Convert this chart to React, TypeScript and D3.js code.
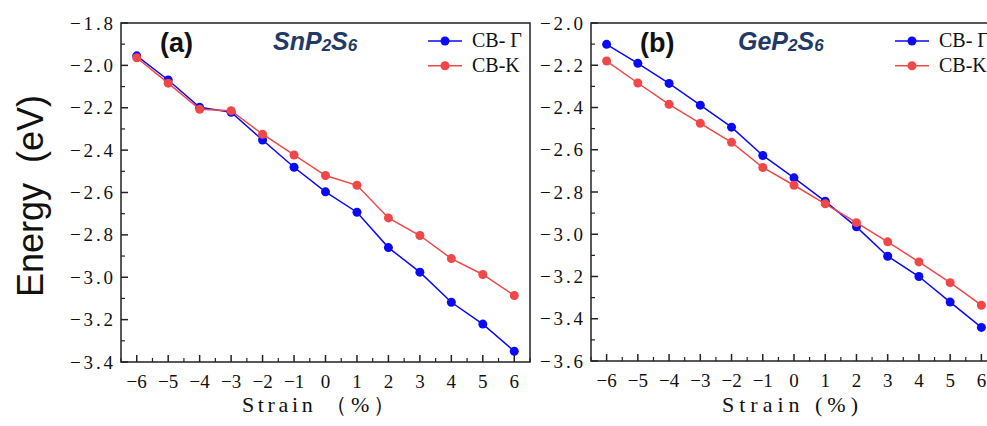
import React from "react";
import * as d3 from "d3";

const strain = [-6, -5, -4, -3, -2, -1, 0, 1, 2, 3, 4, 5, 6];
const snGamma = [-1.955, -2.069, -2.198, -2.221, -2.352, -2.481, -2.597, -2.693, -2.86, -2.976, -3.118, -3.221, -3.349];
const snK = [-1.964, -2.084, -2.207, -2.214, -2.325, -2.423, -2.52, -2.566, -2.72, -2.803, -2.912, -2.987, -3.086];
const geGamma = [-2.101, -2.191, -2.286, -2.389, -2.493, -2.627, -2.733, -2.844, -2.965, -3.104, -3.2, -3.321, -3.441];
const geK = [-2.18, -2.284, -2.385, -2.475, -2.565, -2.684, -2.768, -2.856, -2.945, -3.036, -3.131, -3.229, -3.336];
const xTicks = [-6, -5, -4, -3, -2, -1, 0, 1, 2, 3, 4, 5, 6];
const snYTicks = [-1.8, -2.0, -2.2, -2.4, -2.6, -2.8, -3.0, -3.2, -3.4];
const geYTicks = [-2.0, -2.2, -2.4, -2.6, -2.8, -3.0, -3.2, -3.4, -3.6];
const seriesNames = ["CB- Γ", "CB-K"];

const BLUE = "#0a0af5";
const RED = "#f04848";
const AXIS = "#222";
const SERIF = "Liberation Serif, DejaVu Serif, serif";
const SANS = "Liberation Sans, Arial, sans-serif";

type PanelProps = {
  left: number; right: number; top: number; bottom: number;
  yDomain: [number, number]; yTicks: number[];
  gamma: number[]; k: number[];
  tag: string; tagX: number;
  formula: string; formulaX: number;
  xLabel: string; xLabelX: number; xLabelLen: number;
};

function fmt(v: number) {
  return "\u2212" + Math.abs(v).toFixed(1);
}

const serifStyle: React.CSSProperties = { fontFamily: SERIF };

function Panel(p: PanelProps) {
  const x = d3.scaleLinear().domain([-6.5, 6.5]).range([p.left, p.right]);
  const y = d3.scaleLinear().domain(p.yDomain).range([p.bottom, p.top]);
  const line = d3.line<number>().x((_, i) => x(strain[i])).y((d) => y(d));
  const minorX = d3.range(-6.5, 6.51, 0.5).filter((v) => Math.abs(v - Math.round(v)) > 0.1);
  const [y0, y1] = p.yDomain;
  const minorY = d3.range(0, Math.round((y1 - y0) / 0.1) + 1).map((i) => y0 + i * 0.1);
  const series = [
    { vals: p.gamma, color: BLUE },
    { vals: p.k, color: RED },
  ];
  const legX = p.right - 102;
  const parts = p.formula.match(/[A-Za-z]+|\d/g) || [];
  return (
    <g>
      {series.map((s, si) => (
        <g key={si}>
          <path d={line(s.vals) || ""} fill="none" stroke={s.color} strokeWidth={1.5} />
          {s.vals.map((v, i) => (
            <circle key={i} cx={x(strain[i])} cy={y(v)} r={4.5} fill={s.color} />
          ))}
        </g>
      ))}
      <rect x={p.left} y={p.top} width={p.right - p.left} height={p.bottom - p.top} fill="none" stroke={AXIS} strokeWidth={1.5} />
      {xTicks.map((t) => (
        <g key={"xt" + t}>
          <line x1={x(t)} x2={x(t)} y1={p.bottom} y2={p.bottom - 7} stroke={AXIS} strokeWidth={1.5} />
          <text x={x(t)} y={p.bottom + 26} textAnchor="middle" style={serifStyle} fontSize={19} fill="#111">
            {t < 0 ? "\u2212" + Math.abs(t) : String(t)}
          </text>
        </g>
      ))}
      {minorX.map((t) => (
        <line key={"xm" + t} x1={x(t)} x2={x(t)} y1={p.bottom} y2={p.bottom - 4} stroke={AXIS} strokeWidth={1.2} />
      ))}
      {p.yTicks.map((t) => (
        <g key={"yt" + t}>
          <line x1={p.left} x2={p.left + 7} y1={y(t)} y2={y(t)} stroke={AXIS} strokeWidth={1.5} />
          <text x={p.left - 8} y={y(t) + 6.5} textAnchor="end" style={serifStyle} fontSize={19} fill="#111" textLength={43} lengthAdjust="spacing">
            {fmt(t)}
          </text>
        </g>
      ))}
      {minorY.map((t, i) => (
        i % 2 === 1 ? <line key={"ym" + i} x1={p.left} x2={p.left + 4} y1={y(t)} y2={y(t)} stroke={AXIS} strokeWidth={1.2} /> : null
      ))}
      <text x={p.tagX} y={52} fontFamily={SANS} fontWeight="bold" fontSize={27} fill="#111">{p.tag}</text>
      <text x={p.formulaX} y={50} fontFamily={SANS} fontWeight="bold" fontStyle="italic" fontSize={25} fill="#1f3a68">
        {parts.map((s, i) =>
          /\d/.test(s) ? (
            <tspan key={i} fontSize={17} dy={1}>{s}</tspan>
          ) : (
            <tspan key={i} dy={i > 0 ? -1 : 0}>{s}</tspan>
          )
        )}
      </text>
      {series.map((s, si) => (
        <g key={"lg" + si}>
          <line x1={legX} x2={legX + 34} y1={41 + si * 24.7} y2={41 + si * 24.7} stroke={s.color} strokeWidth={1.5} />
          <circle cx={legX + 17} cy={41 + si * 24.7} r={4.5} fill={s.color} />
          <text x={legX + 44} y={47 + si * 24.7} style={serifStyle} fontSize={20} fill="#111">{seriesNames[si]}</text>
        </g>
      ))}
      <text x={p.xLabelX} y={412} style={serifStyle} fontSize={22} fill="#111" textLength={p.xLabelLen} lengthAdjust="spacing">
        {p.xLabel}
      </text>
    </g>
  );
}

export default function App() {
  return (
    <svg width={987} height={426} style={{ position: "absolute", left: 0, top: 0, background: "#fff" }}>
      <rect x={0} y={0} width={987} height={426} fill="#fff" />
      <Panel
        left={121} right={530} top={23} bottom={362}
        yDomain={[-3.4, -1.8]} yTicks={snYTicks}
        gamma={snGamma} k={snK}
        tag="(a)" tagX={160}
        formula="SnP2S6" formulaX={273}
        xLabel={"Strain \uFF08%\uFF09"} xLabelX={242} xLabelLen={153}
      />
      <Panel
        left={591} right={997} top={23} bottom={361}
        yDomain={[-3.6, -2.0]} yTicks={geYTicks}
        gamma={geGamma} k={geK}
        tag="(b)" tagX={640}
        formula="GeP2S6" formulaX={738}
        xLabel="Strain (%)" xLabelX={722} xLabelLen={136}
      />
      <text
        transform="translate(43,196) rotate(-90)"
        textAnchor="middle"
        fontFamily={SANS}
        fontSize={36}
        fill="#111"
      >
        Energy{"\u00A0\u00A0"}(eV)
      </text>
    </svg>
  );
}
